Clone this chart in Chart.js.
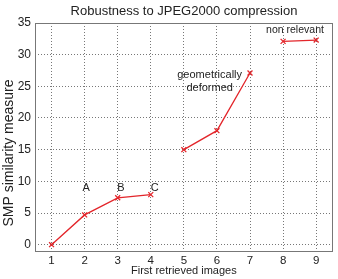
<!DOCTYPE html>
<html><head><meta charset="utf-8">
<script src="https://cdn.jsdelivr.net/npm/chart.js@4/dist/chart.umd.min.js"></script>
<style>html,body{margin:0;padding:0;background:#fff}#wrap{width:338px;height:279px}</style>
</head><body><div id="wrap"><canvas id="c"></canvas></div>
<script>
const xValues = [1, 2, 3, 4, 5, 6, 7, 8, 9];
const yValues = [0, 4.7, 7.4, 7.9, 15, 18, 27.1, 32.1, 32.3];
const segment = [0, 0, 0, 0, 1, 1, 1, 2, 2];
const xTicks = [1, 2, 3, 4, 5, 6, 7, 8, 9];
const yTicks = [0, 5, 10, 15, 20, 25, 30, 35];
const annTexts = ['A', 'B', 'C', 'geometrically', 'deformed', 'non relevant'];
const annX = [2.05, 3.1, 4.12, 5.78, 5.78, 8.36];
const annY = [8.9, 8.9, 8.9, 26.8, 24.8, 33.8];
const titleText = 'Robustness to JPEG2000 compression';
const yTitleText = 'SMP similarity measure';

const datasets = [];
[...new Set(segment)].forEach(s => {
  const pts = xValues.map((x, i) => ({x, y: yValues[i], s: segment[i]})).filter(p => p.s === s).map(p => ({x: p.x, y: p.y}));
  datasets.push({data: pts, borderColor: '#e3262b', backgroundColor: '#e3262b', borderWidth: 1.3,
    pointStyle: 'crossRot', pointRadius: 3.5, pointBorderWidth: 1.3, pointBorderColor: '#e3262b', tension: 0});
});

const deco = {
  id: 'deco',
  afterDraw(chart) {
    const {ctx, chartArea: a, scales: {x, y}} = chart;
    ctx.save();
    ctx.strokeStyle = '#777'; ctx.lineWidth = 1; ctx.setLineDash([]);
    ctx.strokeRect(Math.round(a.left) + 0.5, Math.round(a.top) + 0.5, Math.round(a.right - a.left) - 1, Math.round(a.bottom - a.top));
    ctx.fillStyle = '#222';
    ctx.font = '13px "Liberation Sans", Arial, sans-serif';
    ctx.textAlign = 'center'; ctx.textBaseline = 'middle';
    ctx.fillText(titleText, 184, 11);
    ctx.font = '11px "Liberation Sans", Arial, sans-serif';
    annTexts.forEach((t, i) => {
      ctx.font = (i === 5 ? '10.5px' : '11px') + ' "Liberation Sans", Arial, sans-serif';
      ctx.fillText(t, x.getPixelForValue(annX[i]), y.getPixelForValue(annY[i]));
    });
    ctx.translate(9, 153);
    ctx.rotate(-Math.PI / 2);
    ctx.font = '14px "Liberation Sans", Arial, sans-serif';
    ctx.fillText(yTitleText, 0, 0);
    ctx.restore();
  }
};

new Chart(document.getElementById('c'), {
  type: 'line',
  data: {datasets},
  options: {
    responsive: true, maintainAspectRatio: false, animation: false,
    layout: {padding: {top: 23, right: 3, left: 0, bottom: 0}},
    plugins: {legend: {display: false}, tooltip: {enabled: false}, title: {display: false}},
    scales: {
      x: {
        type: 'linear', min: 0.5, max: 9.5,
        afterBuildTicks: s => { s.ticks = xTicks.map(v => ({value: v})); },
        afterFit: s => { s.height = 28; },
        grid: {color: '#777', drawTicks: false, lineWidth: 1},
        border: {display: false, dash: [1, 2]},
        ticks: {color: '#222', font: {size: 11.5, family: '"Liberation Sans", Arial, sans-serif'}, padding: 3, autoSkip: false, maxRotation: 0},
        title: {display: true, text: 'First retrieved images', color: '#222', font: {size: 11, family: '"Liberation Sans", Arial, sans-serif'}, padding: {top: 0, bottom: 1}}
      },
      y: {
        type: 'linear', min: -1, max: 35,
        afterBuildTicks: s => { s.ticks = yTicks.map(v => ({value: v})); },
        afterFit: s => { s.width = 35; },
        grid: {color: '#777', drawTicks: false, lineWidth: 1},
        border: {display: false, dash: [1, 2]},
        ticks: {color: '#222', font: {size: 12, family: '"Liberation Sans", Arial, sans-serif'}, padding: 4},
        title: {display: false}
      }
    }
  },
  plugins: [deco]
});
</script></body></html>
